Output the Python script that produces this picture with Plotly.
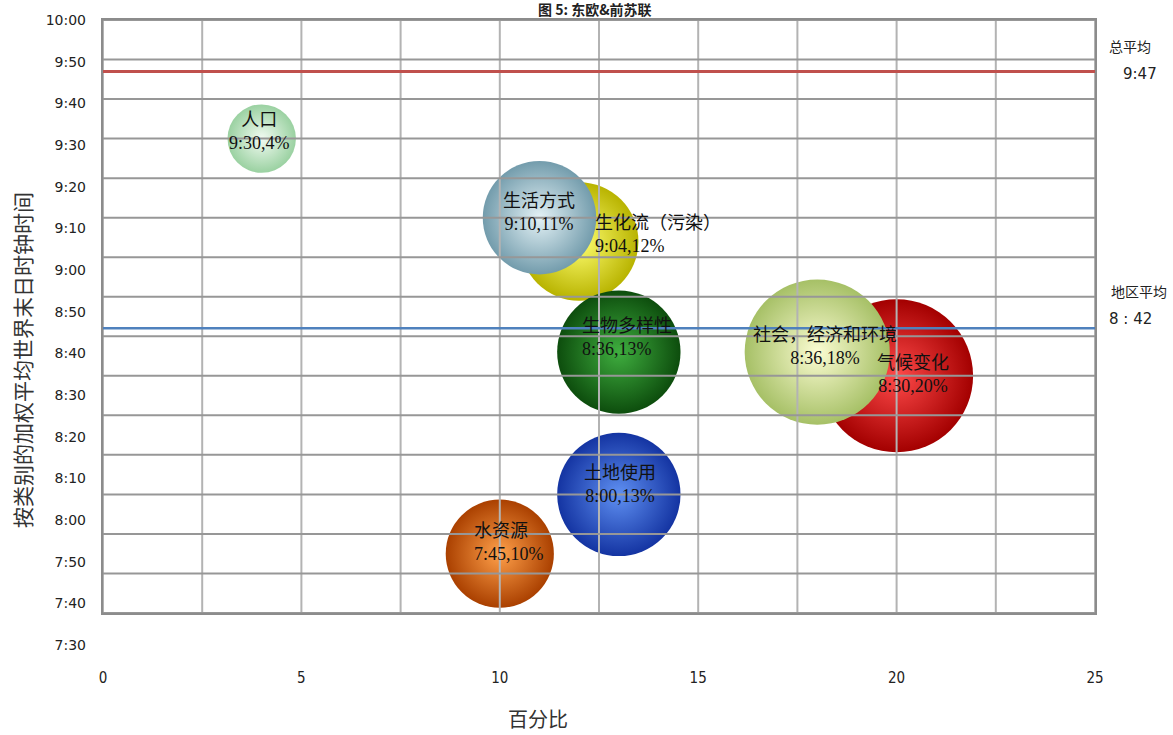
import plotly.graph_objects as go

# ---- data -------------------------------------------------------------
categories = ["气候变化", "社会，经济和环境", "生化流（污染）", "生活方式",
              "生物多样性", "土地使用", "水资源", "人口"]
shares = [20, 18, 12, 11, 13, 13, 10, 4]                      # 百分比
clock_times = ["8:30", "8:36", "9:04", "9:10", "8:36", "8:00", "7:45", "9:30"]

y_tick_labels = ["7:30", "7:40", "7:50", "8:00", "8:10", "8:20", "8:30", "8:40",
                 "8:50", "9:00", "9:10", "9:20", "9:30", "9:40", "9:50", "10:00"]
x_tick_values = [0, 2.5, 5, 7.5, 10, 12.5, 15, 17.5, 20, 22.5, 25]
x_tick_text = ["0", "", "5", "", "10", "", "15", "", "20", "", "25"]

overall_avg = "9:47"
region_avg = "8:42"

# ---- styling ------------------------------------------------------------
SPHERE = {  # edge colour, highlight colour
    "气候变化": ("#a30000", "#ff4a4a"),
    "社会，经济和环境": ("#a6c066", "#fbfcd2"),
    "生化流（污染）": ("#b8b300", "#ffff70"),
    "生活方式": ("#739cac", "#e4f2f6"),
    "生物多样性": ("#0d4d0d", "#3fae3f"),
    "土地使用": ("#1434a2", "#5f90f2"),
    "水资源": ("#aa4000", "#ffa04a"),
    "人口": ("#9ad1a1", "#f2fbf2"),
}
LABEL = {  # xshift, yshift, anchor
    "气候变化": (16, 1, "center"),
    "社会，经济和环境": (8, 6, "center"),
    "生化流（污染）": (14, 7, "left"),
    "生活方式": (0, 5, "center"),
    "生物多样性": (-39, 15, "left"),
    "土地使用": (1, 10, "center"),
    "水资源": (-28, 11, "left"),
    "人口": (-2, 7, "center"),
}


def to_minutes(t):
    h, m = t.replace("：", ":").split(":")
    return int(h) * 60 + int(m)


minutes = [to_minutes(t) for t in clock_times]
y_tick_values = [to_minutes(t) for t in y_tick_labels]
y_lo, y_hi = y_tick_values[0], y_tick_values[-1]

W, H = 1173, 735
M_L, M_R, M_T, M_B = 103, 78, 20, 90
plot_h = H - M_T - M_B
grid_bottom_px = 613
y_dom_low = (H - M_B - grid_bottom_px) / plot_h

max_diam = 153
sizeref = 2.0 * max(shares) / max_diam ** 2

fig = go.Figure()

for cat, s, m in zip(categories, shares, minutes):
    edge, centre = SPHERE[cat]
    fig.add_trace(go.Scatter(
        x=[s], y=[m], mode="markers",
        marker=dict(size=[s], sizemode="area", sizeref=sizeref,
                    color=edge, gradient=dict(type="radial", color=centre),
                    line=dict(width=0), opacity=1),
        hoverinfo="skip", showlegend=False,
    ))

# helper trace carrying the tick-label axis
fig.add_trace(go.Scatter(x=[0], y=[y_lo], xaxis="x2", yaxis="y2", mode="markers",
                         marker=dict(opacity=0), hoverinfo="skip", showlegend=False))

shapes = []
for xv in x_tick_values:
    shapes.append(dict(type="line", xref="x", yref="y domain", x0=xv, x1=xv, y0=0, y1=1,
                       line=dict(color="#b3b3b3", width=2), layer="above"))
for yv in y_tick_values:
    shapes.append(dict(type="line", xref="x domain", yref="y", x0=0, x1=1, y0=yv, y1=yv,
                       line=dict(color="#979797", width=2), layer="above"))
shapes.append(dict(type="line", xref="x domain", yref="y", x0=0, x1=1,
                   y0=to_minutes(overall_avg), y1=to_minutes(overall_avg),
                   line=dict(color="#c0504d", width=3), layer="above"))
shapes.append(dict(type="line", xref="x domain", yref="y", x0=0, x1=1,
                   y0=to_minutes(region_avg), y1=to_minutes(region_avg),
                   line=dict(color="#4f81bd", width=2.5), layer="above"))

label_font = dict(family="Liberation Serif, Noto Sans CJK SC", size=18, color="#111111")
annotations = []
for cat, s, m, t in zip(categories, shares, minutes, clock_times):
    dx, dy, anchor = LABEL[cat]
    annotations.append(dict(
        x=s, y=m, xref="x", yref="y", text=f"{cat}<br>{t},{s}%",
        showarrow=False, xanchor=anchor, yanchor="middle", align=anchor,
        xshift=dx, yshift=dy, font=label_font))

side_font = dict(family="DejaVu Sans, Noto Sans CJK SC", size=14, color="#222222")
annotations += [
    dict(x=1, y=to_minutes(overall_avg), xref="paper", yref="y", text="总平均",
         showarrow=False, xanchor="center", yanchor="middle", xshift=1130 - (W - M_R), yshift=24,
         font=side_font),
    dict(x=1, y=to_minutes(overall_avg), xref="paper", yref="y", text=overall_avg,
         showarrow=False, xanchor="center", yanchor="middle", xshift=1140 - (W - M_R), yshift=-3,
         font=dict(family="DejaVu Sans", size=15, color="#222222")),
    dict(x=1, y=to_minutes(region_avg), xref="paper", yref="y", text="地区平均",
         showarrow=False, xanchor="center", yanchor="middle", xshift=1139 - (W - M_R), yshift=36,
         font=side_font),
    dict(x=1, y=to_minutes(region_avg), xref="paper", yref="y", text=region_avg.replace(":", " : "),
         showarrow=False, xanchor="center", yanchor="middle", xshift=1130 - (W - M_R), yshift=9,
         font=dict(family="DejaVu Sans", size=15, color="#222222")),
    # chart title
    dict(x=0.496, y=1, xref="paper", yref="paper", text="<b>图 5: 东欧&前苏联</b>",
         showarrow=False, xanchor="center", yanchor="bottom", yshift=0, borderpad=0,
         font=dict(family="Noto Sans CJK SC", size=14, color="#222222")),
    # axis titles
    dict(x=0, y=(H - M_B - 360) / plot_h, xref="paper", yref="paper",
         text="按类别的加权平均世界末日时钟时间", textangle=-90,
         showarrow=False, xanchor="center", yanchor="middle", xshift=22 - M_L,
         font=dict(family="Noto Sans CJK SC", size=21, color="#333333")),
    dict(x=(538 - M_L) / (W - M_L - M_R), y=0, xref="paper", yref="paper", text="百分比",
         showarrow=False, xanchor="center", yanchor="middle", yshift=-(718 - (H - M_B)),
         font=dict(family="Noto Sans CJK SC", size=20, color="#333333")),
]

fig.update_layout(
    width=W, height=H,
    margin=dict(l=M_L, r=M_R, t=M_T, b=M_B),
    paper_bgcolor="white", plot_bgcolor="rgba(0,0,0,0)",
    showlegend=False,
    xaxis=dict(domain=[0, 1], range=[0, 25], anchor="y",
               tickvals=x_tick_values, ticktext=x_tick_text,
               showgrid=False, zeroline=False, ticks="",
               showline=True, mirror=True, linecolor="#8c8c8c", linewidth=2,
               ticklabelstandoff=50, layer="above traces",
               tickfont=dict(family="Liberation Sans Narrow, DejaVu Sans Condensed, sans-serif",
                             size=15, color="#222222")),
    yaxis=dict(domain=[y_dom_low, 1], range=[y_lo, y_hi], anchor="x",
               tickvals=y_tick_values, showticklabels=False,
               showgrid=False, zeroline=False, ticks="",
               showline=True, mirror=True, linecolor="#8c8c8c", linewidth=2,
               layer="above traces"),
    xaxis2=dict(domain=[0, 1], range=[0, 25], anchor="y2", visible=False),
    yaxis2=dict(domain=[0, 1], range=[y_lo, y_hi], anchor="x2",
                tickvals=y_tick_values, ticktext=y_tick_labels,
                showgrid=False, zeroline=False, showline=False, ticks="",
                ticklabelstandoff=16,
                tickfont=dict(family="DejaVu Sans", size=14, color="#222222")),
    shapes=shapes,
    annotations=annotations,
)

fig.write_html("out.html")
